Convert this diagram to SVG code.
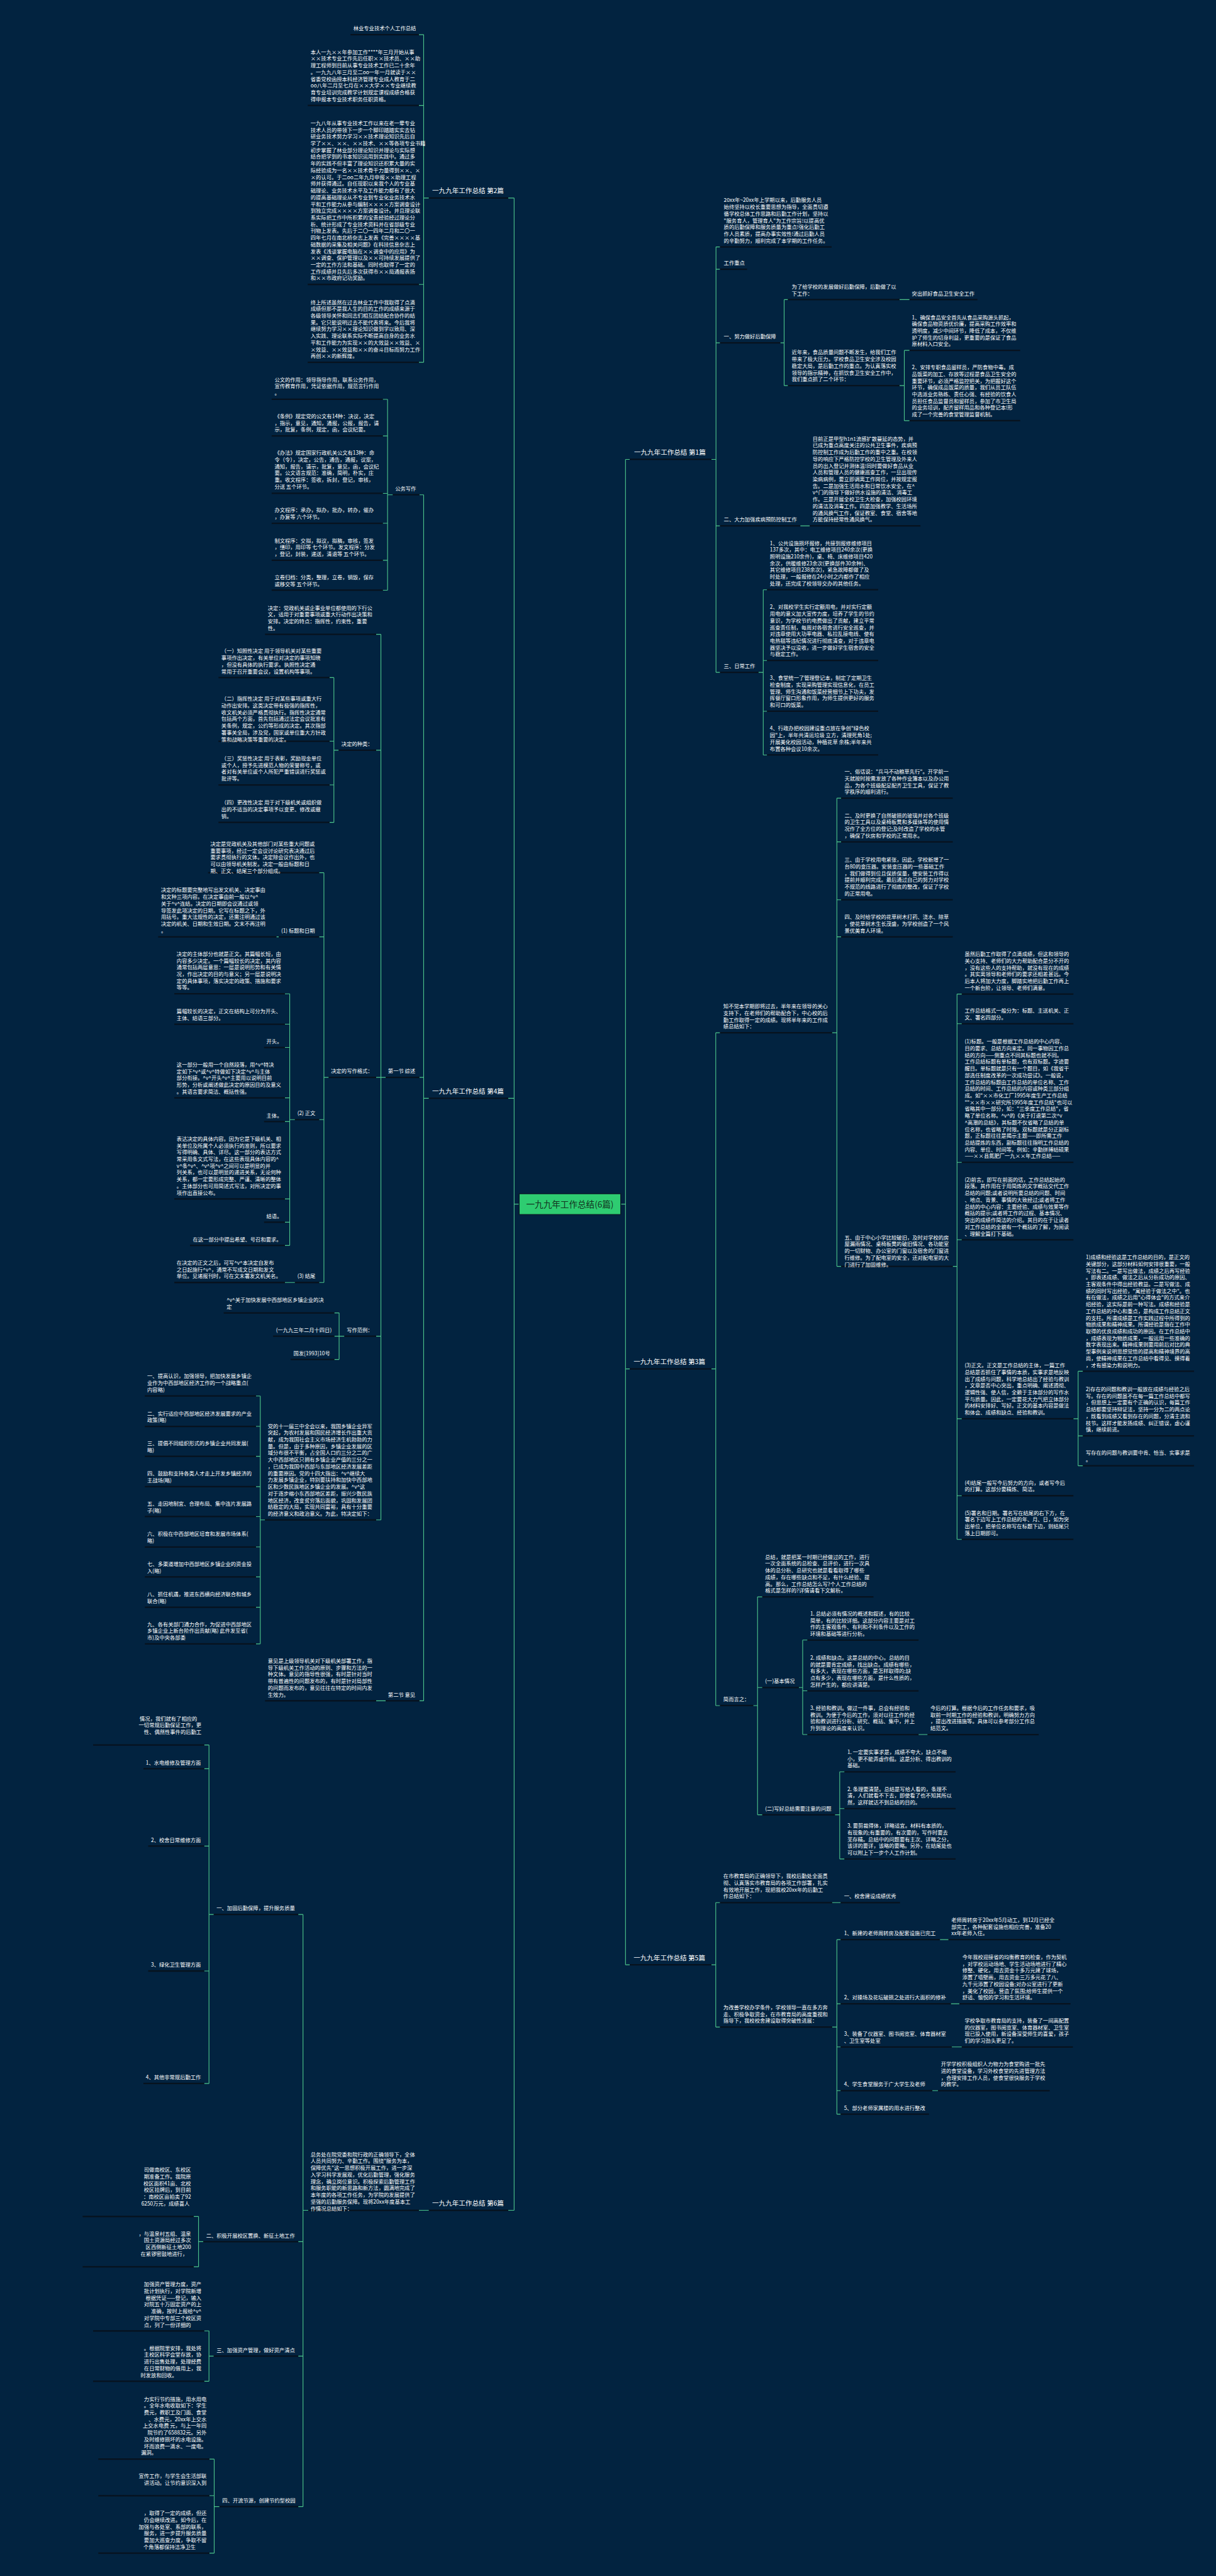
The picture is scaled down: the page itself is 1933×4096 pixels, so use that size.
<svg xmlns="http://www.w3.org/2000/svg" width="1933" height="4096" viewBox="0 0 1933 4096">
<style>
.t{font-family:"Noto Sans CJK SC","Noto Sans",sans-serif;font-size:11px;fill:#ffffff}
.e{text-anchor:end}
.l1{font-family:"Noto Sans CJK SC","Noto Sans",sans-serif;font-size:14px;fill:#ffffff}
.ctr{font-family:"Noto Sans CJK SC","Noto Sans",sans-serif;font-size:18px;fill:#12331f}
.ul{stroke:#07121e;stroke-width:3}
.c{fill:none;stroke:#4cc38a;stroke-width:1.5}
</style>
<rect width="1933" height="4096" fill="#022340"/>
<g transform="scale(0.755)">
<g id="connectors">
<path class="c" d="M1093 2536H1082.5M1082.5 417V4655M1082.5 417H1070M1082.5 2313H1070M1082.5 4655H1070"/>
<path class="c" d="M1307 2536H1317M1317 967.5V4138M1317 967.5H1326M1317 2883H1326M1317 4138H1326"/>
<path class="c" d="M903 417H892M892 73V763M892 73H882M892 222H882M892 599H882M892 763H882"/>
<path class="c" d="M903 2313H892M892 1042V3582M892 1042H883M892 2269H883M892 3582H883"/>
<path class="c" d="M827 1042H816M816 841V1243M816 841H806M816 918H806M816 1039H806M816 1102H806M816 1180H806M816 1243H806"/>
<path class="c" d="M812 2269H802M802 1336V3201M802 1336H792M802 1580H792M802 2269H792M802 2814H792M802 3201H792"/>
<path class="c" d="M713 1580H703M703 1427V1732M703 1427H694M703 1561H694M703 1653H694M703 1732H694"/>
<path class="c" d="M692 2269H682M682 1838V2701M682 1838H672M682 1973H672M682 2358H672M682 2701H672"/>
<path class="c" d="M587 1973H582M621 2701H600"/>
<path class="c" d="M621 2358H610M610 2093V2623M610 2093H600M610 2157H600M610 2206H600M610 2312H600M610 2362H600M610 2525H600M610 2574H600M610 2623H600"/>
<path class="c" d="M725 2814H714M714 2765V2863M714 2765H704M714 2814H704M714 2863H704"/>
<path class="c" d="M558 3201H548M548 2940V3462M548 2940H539M548 3004H539M548 3067H539M548 3131H539M548 3194H539M548 3258H539M548 3321H539M548 3385H539M548 3462H539"/>
<path class="c" d="M812 3582H792M903 4655H882"/>
<path class="c" d="M649 4655H638M638 4032V5279M638 4032H628M638 4721H628M638 4962H628M638 5279H628"/>
<path class="c" d="M450 4032H440M440 3675V4388M440 3675H430M440 3725H430M440 3888H430M440 4151H430M440 4388H430"/>
<path class="c" d="M428 4721H418M418 4668V4774M418 4668H408M418 4774H408"/>
<path class="c" d="M450 4962H440M440 4909V5015M440 4909H430M440 5015H430"/>
<path class="c" d="M462 5279H451M451 5179V5377M451 5179H441M451 5256H441M451 5377H441"/>
<path class="c" d="M1498 967.5H1507.5M1507.5 520V1416M1507.5 520H1516M1507.5 567H1516M1507.5 722H1516M1507.5 1107.5H1516M1507.5 1416H1516"/>
<path class="c" d="M1643 722H1651M1651 631V812M1651 631H1659M1651 812H1659M1894 631H1915"/>
<path class="c" d="M1894 812H1904M1904 738V886M1904 738H1915M1904 886H1915M1685 1107.5H1705"/>
<path class="c" d="M1597 1416H1607M1607 1242V1590M1607 1242H1615M1607 1391H1615M1607 1498H1615M1607 1590H1615"/>
<path class="c" d="M1498 2883H1507M1507 2175V3592M1507 2175H1516M1507 3592H1516"/>
<path class="c" d="M1752 2175H1762M1762 1681V2667M1762 1681H1771M1762 1773H1771M1762 1895H1771M1762 1973H1771M1762 2667H1771"/>
<path class="c" d="M2006 2667H2015M2015 2093.5V3242M2015 2093.5H2025M2015 2156H2025M2015 2448H2025M2015 2611H2025M2015 2988H2025M2015 3150H2025M2015 3242H2025"/>
<path class="c" d="M2260 2988H2270M2270 2888V3087M2270 2888H2280M2270 3024H2280M2270 3087H2280"/>
<path class="c" d="M1586 3592H1595M1595 3363V3822M1595 3363H1605M1595 3554H1605M1595 3822H1605"/>
<path class="c" d="M1682 3554H1690M1690 3454V3653M1690 3454H1700M1690 3561H1700M1690 3653H1700M1934 3653H1953"/>
<path class="c" d="M1758 3822H1768M1768 3731.5V3915M1768 3731.5H1778M1768 3809H1778M1768 3915H1778"/>
<path class="c" d="M1498 4138H1507M1507 4007V4269M1507 4007H1516M1507 4269H1516M1752 4007H1770"/>
<path class="c" d="M1752 4269H1762M1762 4085V4452.5M1762 4085H1770M1762 4220H1770M1762 4311H1770M1762 4403H1770M1762 4452.5H1770"/>
<path class="c" d="M1979 4085H1997M2002 4220H2020M2004 4311H2025M1963 4403H1975"/>
</g>

<g id="center">
<rect x="1093" y="2514" width="214" height="44" fill="#2ecc71" stroke="#0b1d2a" stroke-width="2"/>
<text class="ctr" x="1200" y="2543" text-anchor="middle">一九九年工作总结(6篇)</text>
</g>

<g id="p2"><line class="ul" x1="903" y1="417" x2="1070" y2="417"/><text class="l1" x="910" y="407">一九九年工作总结 第2篇</text></g>
<g id="p2c1"><line class="ul" x1="738" y1="73" x2="882" y2="73"/><text class="t" x="744" y="64">林业专业技术个人工作总结</text></g>
<g id="p2c2"><line class="ul" x1="648" y1="222" x2="882" y2="222"/><text class="t" x="654" y="113.6"><tspan x="654">本人一九××年参加工作****年三月开始从事</tspan><tspan x="654" dy="14.2">××技术专业工作先后任职××技术员、××助</tspan><tspan x="654" dy="14.2">理工程师到目前从事专业技术工作已二十余年</tspan><tspan x="654" dy="14.2">。一九九八年三月至二oo一年一月就读于××</tspan><tspan x="654" dy="14.2">省委党校函授本科经济管理专业成人教育于二</tspan><tspan x="654" dy="14.2">oo八年二月至七月在××大学××专业继续教</tspan><tspan x="654" dy="14.2">育专业培训完成教学计划规定课程成绩合格获</tspan><tspan x="654" dy="14.2">得申报本专业技术职务任职资格。</tspan></text></g>
<g id="p2c3"><line class="ul" x1="648" y1="599" x2="882" y2="599"/><text class="t" x="654" y="263.4"><tspan x="654">一九八年从事专业技术工作以来在老一辈专业</tspan><tspan x="654" dy="14.2">技术人员的带领下一步一个脚印踏踏实实去钻</tspan><tspan x="654" dy="14.2">研业务技术努力学习××技术理论知识先后自</tspan><tspan x="654" dy="14.2">学了××、××、××技术、××等各项专业书籍</tspan><tspan x="654" dy="14.2">初步掌握了林业部分理论知识并理论与实际想</tspan><tspan x="654" dy="14.2">结合把学到的书本知识运用到实践中。通过多</tspan><tspan x="654" dy="14.2">年的实践不但丰富了理论知识还积累大量的实</tspan><tspan x="654" dy="14.2">际经验成为一名××技术骨干力量得到××、×</tspan><tspan x="654" dy="14.2">×的认可。于二oo二年九月申报××助理工程</tspan><tspan x="654" dy="14.2">师并获得通过。自任现职以来我个人的专业基</tspan><tspan x="654" dy="14.2">础理论、业务技术水平及工作能力都有了很大</tspan><tspan x="654" dy="14.2">的提高基础理论从不专业到专业化业务技术水</tspan><tspan x="654" dy="14.2">平和工作能力从参与编制××××方案调查设计</tspan><tspan x="654" dy="14.2">到独立完成××××方案调查设计。并且理论联</tspan><tspan x="654" dy="14.2">系实际把工作中所积累的宝贵经验经过理论分</tspan><tspan x="654" dy="14.2">析、统计形成了专业技术资料并在省部级专业</tspan><tspan x="654" dy="14.2">刊物上发表。先后于二〇一四年二月和二〇一</tspan><tspan x="654" dy="14.2">四年七月在南北桥杂志上发表《完善××××基</tspan><tspan x="654" dy="14.2">础数据的采集及相关问题》在科技信息杂志上</tspan><tspan x="654" dy="14.2">发表《浅谈掌握电脑在××调查中的应用》为</tspan><tspan x="654" dy="14.2">××调查、保护管理以及××可持续发展提供了</tspan><tspan x="654" dy="14.2">一定的工作方法和基础。同时也取得了一定的</tspan><tspan x="654" dy="14.2">工作成绩并且先后多次获得市××局通报表扬</tspan><tspan x="654" dy="14.2">和××市政府记功奖励。</tspan></text></g>
<g id="p2c4"><line class="ul" x1="648" y1="763" x2="882" y2="763"/><text class="t" x="654" y="640.4"><tspan x="654">终上所述虽然在过去林业工作中我取得了点滴</tspan><tspan x="654" dy="14.2">成绩但那不是我人生的目的工作的成绩来源于</tspan><tspan x="654" dy="14.2">各级领导关怀和同志们相互团结配合协作的结</tspan><tspan x="654" dy="14.2">果。它只能说明过去不能代表将来。今后我将</tspan><tspan x="654" dy="14.2">继续努力学习××理论知识做到学以致用、深</tspan><tspan x="654" dy="14.2">入实践、理论联系实际不断提高自身的业务水</tspan><tspan x="654" dy="14.2">平和工作能力为实现××的大效益××效益、×</tspan><tspan x="654" dy="14.2">×效益、××效益和××的奋斗目标而努力工作</tspan><tspan x="654" dy="14.2">再创××的新辉煌。</tspan></text></g>

<g id="p4"><line class="ul" x1="903" y1="2313" x2="1070" y2="2313"/><text class="l1" x="910" y="2303">一九九年工作总结 第4篇</text></g>
<g id="gwxz"><line class="ul" x1="827" y1="1042" x2="883" y2="1042"/><text class="t" x="832" y="1033">公务写作</text></g>
<g id="gw1"><line class="ul" x1="572" y1="841" x2="806" y2="841"/><text class="t" x="578" y="803.6"><tspan x="578">公文的作用：领导指导作用，联系公务作用，</tspan><tspan x="578" dy="14.2">宣传教育作用，凭证依据作用，规范言行作用</tspan><tspan x="578" dy="14.2">。</tspan></text></g>
<g id="gw2"><line class="ul" x1="572" y1="918" x2="806" y2="918"/><text class="t" x="578" y="880.6"><tspan x="578">《条例》规定党的公文有14种：决议，决定</tspan><tspan x="578" dy="14.2">，指示，意见，通知，通报，公报，报告，请</tspan><tspan x="578" dy="14.2">示，批复，条例，规定，函，会议纪要。</tspan></text></g>
<g id="gw3"><line class="ul" x1="572" y1="1039" x2="806" y2="1039"/><text class="t" x="578" y="958"><tspan x="578">《办法》规定国家行政机关公文有13种：命</tspan><tspan x="578" dy="14.2">令（令），决定，公告，通告，通报，议案，</tspan><tspan x="578" dy="14.2">通知，报告，请示，批复，意见，函，会议纪</tspan><tspan x="578" dy="14.2">要。公文语言规范：准确，简明，朴实，庄</tspan><tspan x="578" dy="14.2">重。收文程序：签收，拆封，登记，审核，</tspan><tspan x="578" dy="14.2">分送 五个环节。</tspan></text></g>
<g id="gw4"><line class="ul" x1="572" y1="1102" x2="806" y2="1102"/><text class="t" x="578" y="1078.8"><tspan x="578">办文程序：承办，拟办，批办，转办，催办</tspan><tspan x="578" dy="14.2">，办复等 六个环节。</tspan></text></g>
<g id="gw5"><line class="ul" x1="572" y1="1180" x2="806" y2="1180"/><text class="t" x="578" y="1142.6"><tspan x="578">制文程序：交拟，拟议，拟稿，审核，签发</tspan><tspan x="578" dy="14.2">，缮印，用印等 七个环节。发文程序：分发</tspan><tspan x="578" dy="14.2">，登记，封装，递送，清退等 五个环节。</tspan></text></g>
<g id="gw6"><line class="ul" x1="572" y1="1243" x2="806" y2="1243"/><text class="t" x="578" y="1219.8"><tspan x="578">立卷归档：分类，整理，立卷，销毁，保存</tspan><tspan x="578" dy="14.2">或移交等 五个环节。</tspan></text></g>

<g id="zs"><line class="ul" x1="812" y1="2269" x2="883" y2="2269"/><text class="t" x="817" y="2260">第一节 综述</text></g>
<g id="zs1"><line class="ul" x1="558" y1="1336" x2="792" y2="1336"/><text class="t" x="564" y="1284.4"><tspan x="564">决定：党政机关或企事业单位都使用的下行公</tspan><tspan x="564" dy="14.2">文，适用于对重要事项或重大行动作出决策和</tspan><tspan x="564" dy="14.2">安排。决定的特点：指挥性，约束性，重要</tspan><tspan x="564" dy="14.2">性。</tspan></text></g>
<g id="zl"><line class="ul" x1="713" y1="1580" x2="792" y2="1580"/><text class="t" x="719" y="1571">决定的种类：</text></g>
<g id="zl1"><line class="ul" x1="460" y1="1427" x2="694" y2="1427"/><text class="t" x="466" y="1375.4"><tspan x="466">（一）知照性决定 用于领导机关对某些重要</tspan><tspan x="466" dy="14.2">事项作出决定，有关单位对决定的事项知晓</tspan><tspan x="466" dy="14.2">，但没有具体的执行要求。执照性决定通</tspan><tspan x="466" dy="14.2">常用于召开重要会议，设置机构等事项。</tspan></text></g>
<g id="zl2"><line class="ul" x1="460" y1="1561" x2="694" y2="1561"/><text class="t" x="466" y="1475.8"><tspan x="466">（二）指挥性决定 用于对某些事项或重大行</tspan><tspan x="466" dy="14.2">动作出安排。这类决定带有极强的指挥性，</tspan><tspan x="466" dy="14.2">收文机关必须严格贯彻执行。指挥性决定通常</tspan><tspan x="466" dy="14.2">包括两个方面，首先包括通过法定会议批准有</tspan><tspan x="466" dy="14.2">关条例，规定，公约等形成的决定。其次指部</tspan><tspan x="466" dy="14.2">署事关全局，涉及党，国家或单位重大方针政</tspan><tspan x="466" dy="14.2">策和战略决策等重要的决定。</tspan></text></g>
<g id="zl3"><line class="ul" x1="460" y1="1653" x2="694" y2="1653"/><text class="t" x="466" y="1601.4"><tspan x="466">（三）奖惩性决定 用于表彰，奖励现金单位</tspan><tspan x="466" dy="14.2">或个人，授予先进模范人物的荣誉称号，或</tspan><tspan x="466" dy="14.2">者对有关单位或个人所犯严重错误进行奖惩或</tspan><tspan x="466" dy="14.2">批评等。</tspan></text></g>
<g id="zl4"><line class="ul" x1="460" y1="1732" x2="694" y2="1732"/><text class="t" x="466" y="1694.6"><tspan x="466">（四）更改性决定 用于对下级机关或组织做</tspan><tspan x="466" dy="14.2">出的不适当的决定事项予以变更、修改或撤</tspan><tspan x="466" dy="14.2">销。</tspan></text></g>

<g id="gs"><line class="ul" x1="692" y1="2269" x2="792" y2="2269"/><text class="t" x="697" y="2260">决定的写作格式：</text></g>
<g id="gs0"><line class="ul" x1="438" y1="1838" x2="672" y2="1838"/><text class="t" x="443" y="1781.2"><tspan x="443">决定是党政机关及其他部门对某些重大问题或</tspan><tspan x="443" dy="14.2">重要事项，经过一定会议讨论研究表决通过后</tspan><tspan x="443" dy="14.2">要求贯彻执行的文体。决定除会议作出外，也</tspan><tspan x="443" dy="14.2">可以由领导机关制发。决定一般由标题和日</tspan><tspan x="443" dy="14.2">期、正文、结尾三个部分组成。</tspan></text></g>
<g id="gs1"><line class="ul" x1="587" y1="1973" x2="672" y2="1973"/><text class="t" x="592" y="1964">(1) 标题和日期</text></g>
<g id="gs1a"><line class="ul" x1="333" y1="1973" x2="582" y2="1973"/><text class="t" x="339" y="1878.8"><tspan x="339">决定的标题要完整地写出发文机关、决定事由</tspan><tspan x="339" dy="14.2">和文种三项内容。在决定事由前一般以^v^</tspan><tspan x="339" dy="14.2">关于^v^连结。决定的日期即会议通过或领</tspan><tspan x="339" dy="14.2">导签发此项决定的日期。它写在标题之下，外</tspan><tspan x="339" dy="14.2">用括号。重大法规性的决定，还需注明通过该</tspan><tspan x="339" dy="14.2">决定的机关、日期和生效日期。文末不再注明</tspan><tspan x="339" dy="14.2">。</tspan></text></g>
<g id="gs2"><line class="ul" x1="621" y1="2358" x2="672" y2="2358"/><text class="t" x="626" y="2349">(2) 正文</text></g>
<g id="gs2a"><line class="ul" x1="367" y1="2093" x2="600" y2="2093"/><text class="t" x="372" y="2013"><tspan x="372">决定的主体部分也就是正文。其篇幅长短，由</tspan><tspan x="372" dy="14.2">内容多少决定。一个篇幅较长的决定，其内容</tspan><tspan x="372" dy="14.2">通常包括两层意思：一层是说明形势和有关情</tspan><tspan x="372" dy="14.2">况，作出决定的目的与意义；另一层是说明决</tspan><tspan x="372" dy="14.2">定的具体事项，落实决定的政策、措施和要求</tspan><tspan x="372" dy="14.2">等等。</tspan></text></g>
<g id="gs2b"><line class="ul" x1="367" y1="2157" x2="600" y2="2157"/><text class="t" x="372" y="2133.8"><tspan x="372">篇幅较长的决定，正文在结构上可分为开头、</tspan><tspan x="372" dy="14.2">主体、结语三部分。</tspan></text></g>
<g id="gs2c"><line class="ul" x1="556" y1="2206" x2="600" y2="2206"/><text class="t" x="561" y="2197">开头。</text></g>
<g id="gs2d"><line class="ul" x1="367" y1="2312" x2="600" y2="2312"/><text class="t" x="372" y="2246.2"><tspan x="372">这一部分一般用一个自然段落，用^v^特决</tspan><tspan x="372" dy="14.2">定如下^v^或^v^特做如下决定^v^与主体</tspan><tspan x="372" dy="14.2">部分衔接。^v^开头^v^主要用以说明目前</tspan><tspan x="372" dy="14.2">形势，分析或阐述做此决定的原因目的及意义</tspan><tspan x="372" dy="14.2">。其语言要求简洁、概括性强。</tspan></text></g>
<g id="gs2e"><line class="ul" x1="556" y1="2362" x2="600" y2="2362"/><text class="t" x="561" y="2353">主体。</text></g>
<g id="gs2f"><line class="ul" x1="367" y1="2525" x2="600" y2="2525"/><text class="t" x="372" y="2402.4"><tspan x="372">表达决定的具体内容。因为它是下级机关、相</tspan><tspan x="372" dy="14.2">关单位及所属个人必须执行的准则，所以要求</tspan><tspan x="372" dy="14.2">写得明确、具体、详尽。这一部分的表达方式</tspan><tspan x="372" dy="14.2">常采用条文式写法，在这些表现具体内容的^</tspan><tspan x="372" dy="14.2">v^条^v^、^v^项^v^之间可以是明显的并</tspan><tspan x="372" dy="14.2">列关系，也可以是明显的递进关系，无论何种</tspan><tspan x="372" dy="14.2">关系，都一定要形成完整、严谨、清晰的整体</tspan><tspan x="372" dy="14.2">。主体部分也可用简述式写法，对所决定的事</tspan><tspan x="372" dy="14.2">项作出直接公布。</tspan></text></g>
<g id="gs2g"><line class="ul" x1="556" y1="2574" x2="600" y2="2574"/><text class="t" x="561" y="2565">结语。</text></g>
<g id="gs2h"><line class="ul" x1="400" y1="2623" x2="600" y2="2623"/><text class="t" x="406" y="2614">在这一部分中提出希望、号召和要求。</text></g>
<g id="gs3"><line class="ul" x1="621" y1="2701" x2="672" y2="2701"/><text class="t" x="626" y="2692">(3) 结尾</text></g>
<g id="gs3a"><line class="ul" x1="367" y1="2701" x2="600" y2="2701"/><text class="t" x="372" y="2663.6"><tspan x="372">在决定的正文之后，可写^v^本决定自发布</tspan><tspan x="372" dy="14.2">之日起施行^v^，通常不写成文日期和发文</tspan><tspan x="372" dy="14.2">单位。见诸报刊时，可在文末署发文机关名。</tspan></text></g>

<g id="fl"><line class="ul" x1="725" y1="2814" x2="792" y2="2814"/><text class="t" x="730" y="2805">写作范例：</text></g>
<g id="fl1"><line class="ul" x1="471" y1="2765" x2="704" y2="2765"/><text class="t" x="477" y="2741.8"><tspan x="477">^v^关于加快发展中西部地区乡镇企业的决</tspan><tspan x="477" dy="14.2">定</tspan></text></g>
<g id="fl2"><line class="ul" x1="575" y1="2814" x2="704" y2="2814"/><text class="t" x="581" y="2805">(一九九三年二月十四日)</text></g>
<g id="fl3"><line class="ul" x1="612" y1="2863" x2="704" y2="2863"/><text class="t" x="618" y="2854">国发[1993]10号</text></g>

<g id="dj"><line class="ul" x1="558" y1="3201" x2="792" y2="3201"/><text class="t" x="564" y="3007.4"><tspan x="564">党的十一届三中全会以来，我国乡镇企业异军</tspan><tspan x="564" dy="14.2">突起，为农村发展和国民经济增长作出重大贡</tspan><tspan x="564" dy="14.2">献，成为我国社会主义市场经济生机勃勃的力</tspan><tspan x="564" dy="14.2">量。但是，由于多种原因，乡镇企业发展的区</tspan><tspan x="564" dy="14.2">域分布很不平衡，占全国人口约三分之二的广</tspan><tspan x="564" dy="14.2">大中西部地区只拥有乡镇企业产值的三分之一</tspan><tspan x="564" dy="14.2">，已成为我国中西部与东部地区经济发展差距</tspan><tspan x="564" dy="14.2">的重要原因。党的十四大指出：^v^继续大</tspan><tspan x="564" dy="14.2">力发展乡镇企业，特别要扶持和加快中西部地</tspan><tspan x="564" dy="14.2">区和少数民族地区乡镇企业的发展。^v^这</tspan><tspan x="564" dy="14.2">对于逐步缩小东西部地区差距，振兴少数民族</tspan><tspan x="564" dy="14.2">地区经济，改变贫穷落后面貌，巩固和发展团</tspan><tspan x="564" dy="14.2">结稳定的大局，实现共同富裕，具有十分重要</tspan><tspan x="564" dy="14.2">的经济意义和政治意义。为此，特决定如下：</tspan></text></g>
<g id="dj1"><line class="ul" x1="305" y1="2940" x2="539" y2="2940"/><text class="t" x="310" y="2902.6"><tspan x="310">一、提高认识，加强领导，把加快发展乡镇企</tspan><tspan x="310" dy="14.2">业作为中西部地区经济工作的一个战略重点(</tspan><tspan x="310" dy="14.2">内容略)</tspan></text></g>
<g id="dj2"><line class="ul" x1="305" y1="3004" x2="539" y2="3004"/><text class="t" x="310" y="2980.8"><tspan x="310">二、实行适应中西部地区经济发展要求的产业</tspan><tspan x="310" dy="14.2">政策(略)</tspan></text></g>
<g id="dj3"><line class="ul" x1="305" y1="3067" x2="539" y2="3067"/><text class="t" x="310" y="3043.8"><tspan x="310">三、提倡不同组织形式的乡镇企业共同发展(</tspan><tspan x="310" dy="14.2">略)</tspan></text></g>
<g id="dj4"><line class="ul" x1="305" y1="3131" x2="539" y2="3131"/><text class="t" x="310" y="3107.8"><tspan x="310">四、鼓励和支持各类人才走上开发乡镇经济的</tspan><tspan x="310" dy="14.2">主战场(略)</tspan></text></g>
<g id="dj5"><line class="ul" x1="305" y1="3194" x2="539" y2="3194"/><text class="t" x="310" y="3170.8"><tspan x="310">五、走因地制宜、合理布局、集中连片发展路</tspan><tspan x="310" dy="14.2">子(略)</tspan></text></g>
<g id="dj6"><line class="ul" x1="305" y1="3258" x2="539" y2="3258"/><text class="t" x="310" y="3234.8"><tspan x="310">六、积极在中西部地区培育和发展市场体系(</tspan><tspan x="310" dy="14.2">略)</tspan></text></g>
<g id="dj7"><line class="ul" x1="305" y1="3321" x2="539" y2="3321"/><text class="t" x="310" y="3297.8"><tspan x="310">七、多渠道增加中西部地区乡镇企业的资金投</tspan><tspan x="310" dy="14.2">入(略)</tspan></text></g>
<g id="dj8"><line class="ul" x1="305" y1="3385" x2="539" y2="3385"/><text class="t" x="310" y="3361.8"><tspan x="310">八、抓住机遇，推进东西横向经济联合和城乡</tspan><tspan x="310" dy="14.2">联合(略)</tspan></text></g>
<g id="dj9"><line class="ul" x1="305" y1="3462" x2="539" y2="3462"/><text class="t" x="310" y="3424.6"><tspan x="310">九、各有关部门通力合作，为促进中西部地区</tspan><tspan x="310" dy="14.2">乡镇企业上新台阶作出贡献(略) 此件发至省(</tspan><tspan x="310" dy="14.2">市)及中央各部委</tspan></text></g>

<g id="yj"><line class="ul" x1="812" y1="3582" x2="883" y2="3582"/><text class="t" x="817" y="3573">第二节 意见</text></g>
<g id="yj1"><line class="ul" x1="558" y1="3582" x2="792" y2="3582"/><text class="t" x="564" y="3502"><tspan x="564">意见是上级领导机关对下级机关部署工作，指</tspan><tspan x="564" dy="14.2">导下级机关工作活动的原则、步骤和方法的一</tspan><tspan x="564" dy="14.2">种文体。意见的指导性很强，有时是针对当时</tspan><tspan x="564" dy="14.2">带有普遍性的问题发布的，有时是针对局部性</tspan><tspan x="564" dy="14.2">的问题而发布的，意见往往在特定的时间内发</tspan><tspan x="564" dy="14.2">生效力。</tspan></text></g>

<g id="p6"><line class="ul" x1="903" y1="4655" x2="1070" y2="4655"/><text class="l1" x="910" y="4645">一九九年工作总结 第6篇</text></g>
<g id="zw"><line class="ul" x1="649" y1="4655" x2="882" y2="4655"/><text class="t" x="654" y="4541.4"><tspan x="654">总务处在院党委和院行政的正确领导下，全体</tspan><tspan x="654" dy="14.2">人员共同努力、辛勤工作。围绕"服务为本，</tspan><tspan x="654" dy="14.2">保障优先"这一思想积极开展工作，进一步深</tspan><tspan x="654" dy="14.2">入学习科学发展观，优化后勤管理，强化服务</tspan><tspan x="654" dy="14.2">理念，确立岗位意识。积极探索后勤管理工作</tspan><tspan x="654" dy="14.2">和服务职能的新思路和新方法，圆满地完成了</tspan><tspan x="654" dy="14.2">本年度的各项工作任务，为学院的发展提供了</tspan><tspan x="654" dy="14.2">坚强的后勤服务保障。现将20xx年度基本工</tspan><tspan x="654" dy="14.2">作情况总结如下：</tspan></text></g>
<g id="zw1"><line class="ul" x1="450" y1="4032" x2="628" y2="4032"/><text class="t" x="456" y="4023">一、加固后勤保障，提升服务质量</text></g>
<g id="zw2"><line class="ul" x1="428" y1="4721" x2="628" y2="4721"/><text class="t" x="434" y="4712">二、积极开展校区置换、新征土地工作</text></g>
<g id="zw3"><line class="ul" x1="450" y1="4962" x2="628" y2="4962"/><text class="t" x="456" y="4953">三、加强资产管理，做好资产清点</text></g>
<g id="zw4"><line class="ul" x1="462" y1="5279" x2="628" y2="5279"/><text class="t" x="468" y="5270">四、开流节源，创建节约型校园</text></g>
<g id="zw1p"><line class="ul" x1="196" y1="3675" x2="430" y2="3675"/><text class="t e"><tspan x="415" y="3623.4">情况，我们就有了相应的</tspan><tspan x="424" y="3637.6">一切常规后勤保证工作，更</tspan><tspan x="424" y="3651.8">性、偶然性事件的后勤工</tspan></text></g>
<g id="zw1a"><line class="ul" x1="302" y1="3725" x2="430" y2="3725"/><text class="t" x="307" y="3716">1、水电维修及管理方面</text></g>
<g id="zw1b"><line class="ul" x1="312" y1="3888" x2="430" y2="3888"/><text class="t" x="318" y="3879">2、校舍日常维修方面</text></g>
<g id="zw1c"><line class="ul" x1="312" y1="4151" x2="430" y2="4151"/><text class="t" x="318" y="4142">3、绿化卫生管理方面</text></g>
<g id="zw1d"><line class="ul" x1="302" y1="4388" x2="430" y2="4388"/><text class="t" x="307" y="4379">4、其他非常规后勤工作</text></g>
<g id="zw2a"><line class="ul" x1="174" y1="4668" x2="408" y2="4668"/><text class="t e"><tspan x="402" y="4573.8">司做南校区、东校区</tspan><tspan x="402" y="4588">期准备工作。我院原</tspan><tspan x="402" y="4602.2">校区面积41亩、北校</tspan><tspan x="402" y="4616.4">校区挂牌后，到目前</tspan><tspan x="402" y="4630.6">：南校区亩拍卖了92</tspan><tspan x="399" y="4644.8">6250万元，成绩喜人</tspan></text></g>
<g id="zw2b"><line class="ul" x1="174" y1="4774" x2="408" y2="4774"/><text class="t e"><tspan x="402" y="4708.2">，与温泉村五组、温泉</tspan><tspan x="402" y="4722.4">国土资源局经过多次</tspan><tspan x="402" y="4736.6">区西侧新征土地200</tspan><tspan x="395" y="4750.8">在紧锣密鼓地进行，</tspan></text></g>
<g id="zw3a"><line class="ul" x1="196" y1="4909" x2="430" y2="4909"/><text class="t e"><tspan x="424" y="4814.8">加强资产管理力度，资产</tspan><tspan x="424" y="4829">批计划执行，对学院新增</tspan><tspan x="424" y="4843.2">根据凭证——登记，输入</tspan><tspan x="424" y="4857.4">对院五十万固定资产的上</tspan><tspan x="424" y="4871.6">准确，按时上报给^v^</tspan><tspan x="424" y="4885.8">对学院中专部三个校区资</tspan><tspan x="402" y="4900">点，列了一份详细的</tspan></text></g>
<g id="zw3b"><line class="ul" x1="196" y1="5015" x2="430" y2="5015"/><text class="t e"><tspan x="424" y="4949.2">。根据院里安排，我处将</tspan><tspan x="424" y="4963.4">主校区科学会堂存放，协</tspan><tspan x="424" y="4977.6">进行出售处理，处理经费</tspan><tspan x="424" y="4991.8">在日常财物的借用上，我</tspan><tspan x="373" y="5006">时发放和回收。</tspan></text></g>
<g id="zw4a"><line class="ul" x1="207" y1="5179" x2="441" y2="5179"/><text class="t e"><tspan x="435" y="5056.4">力实行节约措施，用水用电</tspan><tspan x="435" y="5070.6">。全年水电收取如下：学生</tspan><tspan x="435" y="5084.8">费元，教职工及门面、食堂</tspan><tspan x="435" y="5099">、水费元，20xx年上交水</tspan><tspan x="435" y="5113.2">上交水电费 元，与上一年同</tspan><tspan x="435" y="5127.4">院节约了658832元。另外</tspan><tspan x="435" y="5141.6">及时维修损坏的水电设施。</tspan><tspan x="435" y="5155.8">坏而浪费一滴水、一度电。</tspan><tspan x="330" y="5170">漏洞。</tspan></text></g>
<g id="zw4b"><line class="ul" x1="207" y1="5256" x2="441" y2="5256"/><text class="t e"><tspan x="435" y="5218.6">宣传工作，与学生会生活部联</tspan><tspan x="435" y="5232.8">讲活动。让节约意识深入到</tspan></text></g>
<g id="zw4c"><line class="ul" x1="207" y1="5377" x2="441" y2="5377"/><text class="t e"><tspan x="435" y="5297">，取得了一定的成绩，但还</tspan><tspan x="435" y="5311.2">仍会继续改进。如今后，在</tspan><tspan x="435" y="5325.4">加强与各处室、系部的联系，</tspan><tspan x="435" y="5339.6">服务，进一步提升服务质量</tspan><tspan x="435" y="5353.8">要加大巡查力度，争取不留</tspan><tspan x="412" y="5368">个角落都保持洁净卫生</tspan></text></g>

<g id="p1"><line class="ul" x1="1326" y1="967.5" x2="1498" y2="967.5"/><text class="l1" x="1335" y="958">一九九年工作总结 第1篇</text></g>
<g id="p1a"><line class="ul" x1="1516" y1="520" x2="1751" y2="520"/><text class="t" x="1524" y="425.8"><tspan x="1524">20xx年~20xx年上学期以来，后勤服务人员</tspan><tspan x="1524" dy="14.2">始终坚持以校长重要思想为指导，全面贯切遵</tspan><tspan x="1524" dy="14.2">循学校总体工作思路和后勤工作计划，坚持以</tspan><tspan x="1524" dy="14.2">"服务育人，管理育人"为工作宗旨!以提高优</tspan><tspan x="1524" dy="14.2">质的后勤保障和服务质量为重点!强化后勤工</tspan><tspan x="1524" dy="14.2">作人员素质，提高办事实效性!通过后勤人员</tspan><tspan x="1524" dy="14.2">的辛勤努力，顺利完成了本学期的工作任务。</tspan></text></g>
<g id="p1b"><line class="ul" x1="1516" y1="567" x2="1573" y2="567"/><text class="t" x="1524" y="558">工作重点</text></g>
<g id="p1c"><line class="ul" x1="1516" y1="722" x2="1643" y2="722"/><text class="t" x="1524" y="713">一、努力做好后勤保障</text></g>
<g id="p1c1"><line class="ul" x1="1659" y1="631" x2="1894" y2="631"/><text class="t" x="1667" y="607.8"><tspan x="1667">为了给学校的发展做好后勤保障，后勤做了以</tspan><tspan x="1667" dy="14.2">下工作：</tspan></text></g>
<g id="p1c1a"><line class="ul" x1="1915" y1="631" x2="2058" y2="631"/><text class="t" x="1920" y="622">突出抓好食品卫生安全工作</text></g>
<g id="p1c2"><line class="ul" x1="1659" y1="812" x2="1894" y2="812"/><text class="t" x="1667" y="746.2"><tspan x="1667">近年来，食品质量问题不断发生，给我们工作</tspan><tspan x="1667" dy="14.2">带来了极大压力。学校食品卫生安全涉及校园</tspan><tspan x="1667" dy="14.2">稳定大局，是后勤工作的重点。为认真落实校</tspan><tspan x="1667" dy="14.2">领导的指示精神，在抓饮食卫生安全工作中，</tspan><tspan x="1667" dy="14.2">我们重点抓了二个环节：</tspan></text></g>
<g id="p1c2a"><line class="ul" x1="1915" y1="738" x2="2148" y2="738"/><text class="t" x="1920" y="672.2"><tspan x="1920">1、确保食品安全首先从食品采购源头抓起，</tspan><tspan x="1920" dy="14.2">确保食品物资质优价廉，提高采购工作效率和</tspan><tspan x="1920" dy="14.2">透明度，减少中间环节，降低了成本，不仅维</tspan><tspan x="1920" dy="14.2">护了师生的切身利益，更重要的是保证了食品</tspan><tspan x="1920" dy="14.2">原材料入口安全。</tspan></text></g>
<g id="p1c2b"><line class="ul" x1="1915" y1="886" x2="2148" y2="886"/><text class="t" x="1920" y="777.6"><tspan x="1920">2、安排专职食品留样员，严防食物中毒。成</tspan><tspan x="1920" dy="14.2">品饭菜的加工、存放等过程是食品卫生安全的</tspan><tspan x="1920" dy="14.2">重要环节，必须严格监控把关，为把握好这个</tspan><tspan x="1920" dy="14.2">环节，确保成品饭菜的质量，我们从员工队伍</tspan><tspan x="1920" dy="14.2">中选派业务熟练、责任心强、有经验的饮食人</tspan><tspan x="1920" dy="14.2">员担任食品监督员和留样员，参加了市卫生局</tspan><tspan x="1920" dy="14.2">的业务培训，配齐留样用品和各种登记本!形</tspan><tspan x="1920" dy="14.2">成了一个完善的食堂管理监督机制。</tspan></text></g>
<g id="p1d"><line class="ul" x1="1516" y1="1107.5" x2="1685" y2="1107.5"/><text class="t" x="1524" y="1098.5">二、大力加强疾病预防控制工作</text></g>
<g id="p1d1"><line class="ul" x1="1705" y1="1107.5" x2="1938" y2="1107.5"/><text class="t" x="1711" y="928.1"><tspan x="1711">目前正是甲型h1n1流感扩散蔓延的态势，并</tspan><tspan x="1711" dy="14.2">已成为重点高度关注的公共卫生事件，疾病预</tspan><tspan x="1711" dy="14.2">防控制工作成为后勤工作的重中之重。在校领</tspan><tspan x="1711" dy="14.2">导的响应下严格防控学校的卫生管理及外来人</tspan><tspan x="1711" dy="14.2">员的出入登记并测体温!同时要做好食品从业</tspan><tspan x="1711" dy="14.2">人员和管理人员的健康巡查工作，一旦出现传</tspan><tspan x="1711" dy="14.2">染病病例，要立即调离工作岗位，并按规定报</tspan><tspan x="1711" dy="14.2">告。二是加强生活用水和日常饮水安全，在^</tspan><tspan x="1711" dy="14.2">v^门的指导下做好供水设施的清洁、消毒工</tspan><tspan x="1711" dy="14.2">作。三是开展全校卫生大检查，加强校园环境</tspan><tspan x="1711" dy="14.2">的清洁及消毒工作。四是加强教学、生活场所</tspan><tspan x="1711" dy="14.2">的通风换气工作，保证教室、食堂、宿舍等地</tspan><tspan x="1711" dy="14.2">方能保持经常性通风换气。</tspan></text></g>
<g id="p1e"><line class="ul" x1="1516" y1="1416" x2="1597" y2="1416"/><text class="t" x="1524" y="1407">三、日常工作</text></g>
<g id="p1e1"><line class="ul" x1="1615" y1="1242" x2="1849" y2="1242"/><text class="t" x="1621" y="1147.8"><tspan x="1621">1、公共设施损坏报修，共接到报修维修项目</tspan><tspan x="1621" dy="14.2">137多次，其中：电工维修项目240余次(更换</tspan><tspan x="1621" dy="14.2">照明设施210余件)，桌、椅、床维修项目420</tspan><tspan x="1621" dy="14.2">余次，供暖维修23余次(更换部件30余种)、</tspan><tspan x="1621" dy="14.2">其它维修项目238余次)，紧急故障都做了及</tspan><tspan x="1621" dy="14.2">时处理，一般报修在24小时之内都作了相应</tspan><tspan x="1621" dy="14.2">处理，还完成了校领导交办的其他任务。</tspan></text></g>
<g id="p1e2"><line class="ul" x1="1615" y1="1391" x2="1849" y2="1391"/><text class="t" x="1621" y="1282.6"><tspan x="1621">2、对我校学生实行定额用电，并对实行定额</tspan><tspan x="1621" dy="14.2">用电的意义加大宣传力度，培养了学生的节约</tspan><tspan x="1621" dy="14.2">意识，为学校节约电费做出了贡献，建立平常</tspan><tspan x="1621" dy="14.2">巡查责任制，每周对各宿舍进行安全巡查，并</tspan><tspan x="1621" dy="14.2">对违章使用大功率电器、私拉乱接电线、使有</tspan><tspan x="1621" dy="14.2">电热毯等违纪情况进行彻底清查，对于违章电</tspan><tspan x="1621" dy="14.2">器坚决予以没收，进一步做好学生宿舍的安全</tspan><tspan x="1621" dy="14.2">与稳定工作。</tspan></text></g>
<g id="p1e3"><line class="ul" x1="1615" y1="1498" x2="1849" y2="1498"/><text class="t" x="1621" y="1432.2"><tspan x="1621">3、食堂统一了管理登记本，制定了定期卫生</tspan><tspan x="1621" dy="14.2">检查制度，实现采购管理实现信息化，在员工</tspan><tspan x="1621" dy="14.2">管理、师生沟通和饭菜经营细节上下功夫，发</tspan><tspan x="1621" dy="14.2">挥餐厅窗口形象作用，为师生提供更好的服务</tspan><tspan x="1621" dy="14.2">和可口的饭菜。</tspan></text></g>
<g id="p1e4"><line class="ul" x1="1615" y1="1590" x2="1849" y2="1590"/><text class="t" x="1621" y="1538.4"><tspan x="1621">4、行政办把校园建设重点放在争创"绿色校</tspan><tspan x="1621" dy="14.2">园"上，半年共清运垃圾 立方，清理死角1处;</tspan><tspan x="1621" dy="14.2">开展美化校园活动，种植花草 余株;半年来共</tspan><tspan x="1621" dy="14.2">布置各种会议10余次。</tspan></text></g>

<g id="p3"><line class="ul" x1="1326" y1="2883" x2="1498" y2="2883"/><text class="l1" x="1334" y="2873">一九九年工作总结 第3篇</text></g>
<g id="p3a"><line class="ul" x1="1516" y1="2175" x2="1752" y2="2175"/><text class="t" x="1523" y="2123.4"><tspan x="1523">知不觉本学期即将过去，半年来在领导的关心</tspan><tspan x="1523" dy="14.2">支持下，在老师们的帮助配合下，中心校的后</tspan><tspan x="1523" dy="14.2">勤工作取得一定的成绩。现将半年来的工作成</tspan><tspan x="1523" dy="14.2">绩总结如下：</tspan></text></g>
<g id="p3a1"><line class="ul" x1="1771" y1="1681" x2="2006" y2="1681"/><text class="t" x="1778" y="1629.4"><tspan x="1778">一、俗话说："兵马不动粮草先行"。开学前一</tspan><tspan x="1778" dy="14.2">天就按时按需发放了各种作业簿本以及办公用</tspan><tspan x="1778" dy="14.2">品，为各个班级配足配齐卫生工具，保证了教</tspan><tspan x="1778" dy="14.2">学秩序的顺利进行。</tspan></text></g>
<g id="p3a2"><line class="ul" x1="1771" y1="1773" x2="2006" y2="1773"/><text class="t" x="1778" y="1721.4"><tspan x="1778">二、及时更换了自然破损的玻璃并对各个班级</tspan><tspan x="1778" dy="14.2">的卫生工具以及桌椅板凳和多媒体等的使用情</tspan><tspan x="1778" dy="14.2">况作了全方位的登记;及时改造了学校的水管</tspan><tspan x="1778" dy="14.2">，确保了伙房和学校的正常用水。</tspan></text></g>
<g id="p3a3"><line class="ul" x1="1771" y1="1895" x2="2006" y2="1895"/><text class="t" x="1778" y="1815"><tspan x="1778">三、由于学校用电紧张，因此，学校新增了一</tspan><tspan x="1778" dy="14.2">台80的变压器。安装变压器的一些基础工作</tspan><tspan x="1778" dy="14.2">，我们做得到位且保质保量，使安装工作得以</tspan><tspan x="1778" dy="14.2">提前并顺利完成。最后通过自己的努力对学校</tspan><tspan x="1778" dy="14.2">不规范的线路进行了彻底的整改，保证了学校</tspan><tspan x="1778" dy="14.2">的正常用电。</tspan></text></g>
<g id="p3a4"><line class="ul" x1="1771" y1="1973" x2="2006" y2="1973"/><text class="t" x="1778" y="1935.6"><tspan x="1778">四、及时给学校的花草树木打药、浇水、除草</tspan><tspan x="1778" dy="14.2">，使花草树木生长茂盛，为学校创造了一个风</tspan><tspan x="1778" dy="14.2">景优美育人环境。</tspan></text></g>
<g id="p3a5"><line class="ul" x1="1771" y1="2667" x2="2006" y2="2667"/><text class="t" x="1778" y="2610.2"><tspan x="1778">五、由于中心小学比较破旧，及时对学校的房</tspan><tspan x="1778" dy="14.2">屋漏雨情况、桌椅板凳的破旧情况、各功能室</tspan><tspan x="1778" dy="14.2">的一切财物、办公室的门窗以及宿舍的门窗进</tspan><tspan x="1778" dy="14.2">行维修。为了配电室的安全，还对配电室的大</tspan><tspan x="1778" dy="14.2">门进行了加固维修。</tspan></text></g>
<g id="p3b1"><line class="ul" x1="2025" y1="2093.5" x2="2260" y2="2093.5"/><text class="t" x="2031" y="2013.5"><tspan x="2031">虽然后勤工作取得了点滴成绩，但这和领导的</tspan><tspan x="2031" dy="14.2">关心支持、老师们的大力帮助配合是分不开的</tspan><tspan x="2031" dy="14.2">，没有这些人的支持帮助，就没有现在的成绩</tspan><tspan x="2031" dy="14.2">。其实离领导和老师们的要求还相差甚远。今</tspan><tspan x="2031" dy="14.2">后本人将加大力度，脚踏实地把后勤工作再上</tspan><tspan x="2031" dy="14.2">一个新台阶，让领导、老师们满意。</tspan></text></g>
<g id="p3b2"><line class="ul" x1="2025" y1="2156" x2="2260" y2="2156"/><text class="t" x="2031" y="2132.8"><tspan x="2031">工作总结格式一般分为：标题、主送机关、正</tspan><tspan x="2031" dy="14.2">文、署名四部分。</tspan></text></g>
<g id="p3b3"><line class="ul" x1="2025" y1="2448" x2="2260" y2="2448"/><text class="t" x="2031" y="2197.6"><tspan x="2031">(1)标题。一般是根据工作总结的中心内容、</tspan><tspan x="2031" dy="14.2">目的要求、总结方向来定。同一事物因工作总</tspan><tspan x="2031" dy="14.2">结的方向——侧重点不同其标题也就不同。</tspan><tspan x="2031" dy="14.2">工作总结标题有单标题，也有双标题。字迹要</tspan><tspan x="2031" dy="14.2">醒目。单标题就是只有一个题目，如《我省干</tspan><tspan x="2031" dy="14.2">部选任制度改革的一次成功尝试》。一般说，</tspan><tspan x="2031" dy="14.2">工作总结的标题由工作总结的单位名称、工作</tspan><tspan x="2031" dy="14.2">总结的时间、工作总结的内容或种类三部分组</tspan><tspan x="2031" dy="14.2">成。如"××市化工厂1995年度生产工作总结</tspan><tspan x="2031" dy="14.2">""××市××研究所1995年度工作总结"也可以</tspan><tspan x="2031" dy="14.2">省略其中一部分，如："三季度工作总结"，省</tspan><tspan x="2031" dy="14.2">略了单位名称。^v^的《关于打退第二次^v</tspan><tspan x="2031" dy="14.2">^高潮的总结》，其标题不仅省略了总结的单</tspan><tspan x="2031" dy="14.2">位名称，也省略了时限。双标题就是分正副标</tspan><tspan x="2031" dy="14.2">题，正标题往往是揭示主题——即所需工作</tspan><tspan x="2031" dy="14.2">总结提炼的东西，副标题往往指明工作总结的</tspan><tspan x="2031" dy="14.2">内容、单位、时间等。例如：辛勤拼搏结硕果</tspan><tspan x="2031" dy="14.2">——××县氮肥厂一九××年工作总结——</tspan></text></g>
<g id="p3b4"><line class="ul" x1="2025" y1="2611" x2="2260" y2="2611"/><text class="t" x="2031" y="2488.4"><tspan x="2031">(2)前言。即写在前面的话，工作总结起始的</tspan><tspan x="2031" dy="14.2">段落。其作用在于用简炼的文字概括交代工作</tspan><tspan x="2031" dy="14.2">总结的问题;或者说明所要总结的问题、时间</tspan><tspan x="2031" dy="14.2">、地点、背景、事情的大致经过;或者将工作</tspan><tspan x="2031" dy="14.2">总结的中心内容：主要经验、成绩与效果等作</tspan><tspan x="2031" dy="14.2">概括的提示;或者将工作的过程、基本情况、</tspan><tspan x="2031" dy="14.2">突出的成绩作简洁的介绍。其目的在于让读者</tspan><tspan x="2031" dy="14.2">对工作总结的全貌有一个概括的了解，为阅读</tspan><tspan x="2031" dy="14.2">、理解全篇打下基础。</tspan></text></g>
<g id="p3b5"><line class="ul" x1="2025" y1="2988" x2="2260" y2="2988"/><text class="t" x="2031" y="2879.6"><tspan x="2031">(3)正文。正文是工作总结的主体，一篇工作</tspan><tspan x="2031" dy="14.2">总结是否抓住了事情的本质，实事求是地反映</tspan><tspan x="2031" dy="14.2">出了成绩与问题，科学地总结出了经验与教训</tspan><tspan x="2031" dy="14.2">，文章是否中心突出，重点明确、阐述透彻、</tspan><tspan x="2031" dy="14.2">逻辑性强、使人信，全赖于主体部分的写作水</tspan><tspan x="2031" dy="14.2">平与质量。因此，一定要花大力气把立体部分</tspan><tspan x="2031" dy="14.2">的材料安排好、写好。正文的基本内容是做法</tspan><tspan x="2031" dy="14.2">和体会、成绩和缺点、经验和教训。</tspan></text></g>
<g id="p3c1"><line class="ul" x1="2280" y1="2888" x2="2514" y2="2888"/><text class="t" x="2286" y="2651.8"><tspan x="2286">1)成绩和经验这是工作总结的目的，是正文的</tspan><tspan x="2286" dy="14.2">关键部分，这部分材料如何安排很重要，一般</tspan><tspan x="2286" dy="14.2">写法有二。一是写出做法，成绩之后再写经验</tspan><tspan x="2286" dy="14.2">。即表述成绩、做法之后从分析成功的原因、</tspan><tspan x="2286" dy="14.2">主客观条件中得出经验教益。二是写做法、成</tspan><tspan x="2286" dy="14.2">绩的同时写出经验，"寓经验于做法之中"。也</tspan><tspan x="2286" dy="14.2">有在做法，成绩之后用"心得体会"的方式来介</tspan><tspan x="2286" dy="14.2">绍经验，这实际是前一种写法。成绩和经验是</tspan><tspan x="2286" dy="14.2">工作总结的中心和重点，是构成工作总结正文</tspan><tspan x="2286" dy="14.2">的支柱。所谓成绩是工作实践过程中所得到的</tspan><tspan x="2286" dy="14.2">物质成果和精神成果。所谓经验是指在工作中</tspan><tspan x="2286" dy="14.2">取得的优良成绩和成功的原因。在工作总结中</tspan><tspan x="2286" dy="14.2">，成绩表现为物质成果，一般运用一些准确的</tspan><tspan x="2286" dy="14.2">数字表现出来。精神成果则要用前后对比的典</tspan><tspan x="2286" dy="14.2">型事例来说明思想觉悟的提高和精神境界的高</tspan><tspan x="2286" dy="14.2">尚，使精神成果在工作总结中看得见、摸得着</tspan><tspan x="2286" dy="14.2">，才有感染力和说明力。</tspan></text></g>
<g id="p3c2"><line class="ul" x1="2280" y1="3024" x2="2514" y2="3024"/><text class="t" x="2286" y="2929.8"><tspan x="2286">2)存在的问题和教训一般放在成绩与经验之后</tspan><tspan x="2286" dy="14.2">写。存在的问题虽不在每一篇工作总结中都写</tspan><tspan x="2286" dy="14.2">，但思想上一定要有个正确的认识，每篇工作</tspan><tspan x="2286" dy="14.2">总结都要坚持辩证法，坚持一分为二的两点论</tspan><tspan x="2286" dy="14.2">，既看到成绩又看到存在的问题，分清主流和</tspan><tspan x="2286" dy="14.2">枝节。这样才能发扬成绩、纠正错误，虚心谨</tspan><tspan x="2286" dy="14.2">慎，继续前进。</tspan></text></g>
<g id="p3c3"><line class="ul" x1="2280" y1="3087" x2="2514" y2="3087"/><text class="t" x="2286" y="3063.8"><tspan x="2286">写存在的问题与教训要中肯、恰当、实事求是</tspan><tspan x="2286" dy="14.2">。</tspan></text></g>
<g id="p3b6"><line class="ul" x1="2025" y1="3150" x2="2260" y2="3150"/><text class="t" x="2031" y="3126.8"><tspan x="2031">(4)结尾一般写今后努力的方向，或者写今后</tspan><tspan x="2031" dy="14.2">的打算。这部分要精炼、简洁。</tspan></text></g>
<g id="p3b7"><line class="ul" x1="2025" y1="3242" x2="2260" y2="3242"/><text class="t" x="2031" y="3190.4"><tspan x="2031">(5)署名和日期。署名写在结尾的右下方，在</tspan><tspan x="2031" dy="14.2">署名下边写上工作总结的年、月、日，如为突</tspan><tspan x="2031" dy="14.2">出单位，把单位名称写在标题下边，则结尾只</tspan><tspan x="2031" dy="14.2">落上日期即可。</tspan></text></g>
<g id="p3d"><line class="ul" x1="1516" y1="3592" x2="1586" y2="3592"/><text class="t" x="1523" y="3583">简而言之：</text></g>
<g id="p3d1"><line class="ul" x1="1605" y1="3363" x2="1839" y2="3363"/><text class="t" x="1611" y="3283"><tspan x="1611">总结，就是把某一时期已经做过的工作，进行</tspan><tspan x="1611" dy="14.2">一次全面系统的总检查、总评价，进行一次具</tspan><tspan x="1611" dy="14.2">体的总分析、总研究也就是看看取得了哪些</tspan><tspan x="1611" dy="14.2">成绩，存在哪些缺点和不足，有什么经验、提</tspan><tspan x="1611" dy="14.2">高。那么，工作总结怎么写?个人工作总结的</tspan><tspan x="1611" dy="14.2">格式是怎样的?详情请看下文解析。</tspan></text></g>
<g id="p3d2"><line class="ul" x1="1605" y1="3554" x2="1682" y2="3554"/><text class="t" x="1611" y="3545">(一)基本情况</text></g>
<g id="p3d2a"><line class="ul" x1="1700" y1="3454" x2="1934" y2="3454"/><text class="t" x="1706" y="3402.4"><tspan x="1706">1. 总结必须有情况的概述和叙述，有的比较</tspan><tspan x="1706" dy="14.2">简单，有的比较详细。这部分内容主要是对工</tspan><tspan x="1706" dy="14.2">作的主客观条件、有利和不利条件以及工作的</tspan><tspan x="1706" dy="14.2">环境和基础等进行分析。</tspan></text></g>
<g id="p3d2b"><line class="ul" x1="1700" y1="3561" x2="1934" y2="3561"/><text class="t" x="1706" y="3495.2"><tspan x="1706">2. 成绩和缺点。这是总结的中心。总结的目</tspan><tspan x="1706" dy="14.2">的就是要肯定成绩，找出缺点。成绩有哪些，</tspan><tspan x="1706" dy="14.2">有多大，表现在哪些方面，是怎样取得的;缺</tspan><tspan x="1706" dy="14.2">点有多少，表现在哪些方面，是什么性质的，</tspan><tspan x="1706" dy="14.2">怎样产生的，都应讲清楚。</tspan></text></g>
<g id="p3d2c"><line class="ul" x1="1700" y1="3653" x2="1934" y2="3653"/><text class="t" x="1706" y="3601.4"><tspan x="1706">3. 经验和教训。做过一件事，总会有经验和</tspan><tspan x="1706" dy="14.2">教训。为便于今后的工作，须对以往工作的经</tspan><tspan x="1706" dy="14.2">验和教训进行分析、研究、概括、集中，并上</tspan><tspan x="1706" dy="14.2">升到理论的高度来认识。</tspan></text></g>
<g id="p3d2d"><line class="ul" x1="1953" y1="3653" x2="2187" y2="3653"/><text class="t" x="1959" y="3601.4"><tspan x="1959">今后的打算。根据今后的工作任务和要求，吸</tspan><tspan x="1959" dy="14.2">取前一时期工作的经验和教训，明确努力方向</tspan><tspan x="1959" dy="14.2">，提出改进措施等。具体可以参考部分工作总</tspan><tspan x="1959" dy="14.2">结范文。</tspan></text></g>
<g id="p3d3"><line class="ul" x1="1605" y1="3822" x2="1758" y2="3822"/><text class="t" x="1611" y="3813">(二)写好总结需要注意的问题</text></g>
<g id="p3d3a"><line class="ul" x1="1778" y1="3731.5" x2="2012" y2="3731.5"/><text class="t" x="1784" y="3694.1"><tspan x="1784">1. 一定要实事求是，成绩不夸大，缺点不缩</tspan><tspan x="1784" dy="14.2">小，更不能弄虚作假。这是分析、得出教训的</tspan><tspan x="1784" dy="14.2">基础。</tspan></text></g>
<g id="p3d3b"><line class="ul" x1="1778" y1="3809" x2="2012" y2="3809"/><text class="t" x="1784" y="3771.6"><tspan x="1784">2. 条理要清楚。总结是写给人看的，条理不</tspan><tspan x="1784" dy="14.2">清，人们就看不下去，即使看了也不知其所以</tspan><tspan x="1784" dy="14.2">然，这样就达不到总结的目的。</tspan></text></g>
<g id="p3d3c"><line class="ul" x1="1778" y1="3915" x2="2012" y2="3915"/><text class="t" x="1784" y="3849.2"><tspan x="1784">3. 要剪裁得体，详略适宜。材料有本质的，</tspan><tspan x="1784" dy="14.2">有现象的;有重要的，有次要的，写作时要去</tspan><tspan x="1784" dy="14.2">芜存精。总结中的问题要有主次、详略之分，</tspan><tspan x="1784" dy="14.2">该详的要详，该略的要略。另外，在结尾处也</tspan><tspan x="1784" dy="14.2">可以附上下一步个人工作计划。</tspan></text></g>

<g id="p5"><line class="ul" x1="1326" y1="4138" x2="1498" y2="4138"/><text class="l1" x="1334" y="4128">一九九年工作总结 第5篇</text></g>
<g id="p5a"><line class="ul" x1="1516" y1="4007" x2="1752" y2="4007"/><text class="t" x="1523" y="3955.4"><tspan x="1523">在市教育局的正确领导下，我校后勤处全面贯</tspan><tspan x="1523" dy="14.2">彻、认真落实市教育局的各项工作部署，扎实</tspan><tspan x="1523" dy="14.2">有效地开展工作，现把我校20xx年的后勤工</tspan><tspan x="1523" dy="14.2">作总结如下：</tspan></text></g>
<g id="p5a1"><line class="ul" x1="1770" y1="4007" x2="1895" y2="4007"/><text class="t" x="1777" y="3998">一、校舍建设成绩优秀</text></g>
<g id="p5b"><line class="ul" x1="1516" y1="4269" x2="1752" y2="4269"/><text class="t" x="1523" y="4231.6"><tspan x="1523">为改善学校办学条件，学校领导一直在多方奔</tspan><tspan x="1523" dy="14.2">走、积极争取资金，在市教育局的高度重视和</tspan><tspan x="1523" dy="14.2">指导下，我校校舍建设取得突破性进展：</tspan></text></g>
<g id="p5b1"><line class="ul" x1="1770" y1="4085" x2="1979" y2="4085"/><text class="t" x="1777" y="4076">1、新建的老师周转房及配套设施已完工</text></g>
<g id="p5b1a"><line class="ul" x1="1997" y1="4085" x2="2232" y2="4085"/><text class="t" x="2003" y="4047.6"><tspan x="2003">老师周转房于20xx年5月动工，到12月已经全</tspan><tspan x="2003" dy="14.2">部完工，各种配套设施也相应完善，准备20</tspan><tspan x="2003" dy="14.2">xx年老师入住。</tspan></text></g>
<g id="p5b2"><line class="ul" x1="1770" y1="4220" x2="2002" y2="4220"/><text class="t" x="1777" y="4211">2、对操场及花坛破损之处进行大面积的修补</text></g>
<g id="p5b2a"><line class="ul" x1="2020" y1="4220" x2="2254" y2="4220"/><text class="t" x="2026" y="4125.8"><tspan x="2026">今年我校迎接省的均衡教育的检查，作为契机</tspan><tspan x="2026" dy="14.2">，对学校运动场地、学生活动场地进行了精心</tspan><tspan x="2026" dy="14.2">修整、硬化，用去资金十多万元建了球场，</tspan><tspan x="2026" dy="14.2">添置了墙壁画，用去资金三万多元花了八、</tspan><tspan x="2026" dy="14.2">九千元添置了校园设备;对办公室进行了更新</tspan><tspan x="2026" dy="14.2">，美化了校园，营造了氛围;给师生提供一个</tspan><tspan x="2026" dy="14.2">舒适、愉悦的学习和生活环境。</tspan></text></g>
<g id="p5b3"><line class="ul" x1="1770" y1="4311" x2="2004" y2="4311"/><text class="t" x="1777" y="4287.8"><tspan x="1777">3、装备了仪器室、图书阅览室、体育器材室</tspan><tspan x="1777" dy="14.2">、卫生室等处室</tspan></text></g>
<g id="p5b3a"><line class="ul" x1="2025" y1="4311" x2="2259" y2="4311"/><text class="t" x="2031" y="4259.4"><tspan x="2031">学校争取市教育局的支持，装备了一间高配置</tspan><tspan x="2031" dy="14.2">的仪器室，图书阅览室、体育器材室、卫生室</tspan><tspan x="2031" dy="14.2">现已投入使用，新设备深受师生的喜爱，孩子</tspan><tspan x="2031" dy="14.2">们的学习劲头更足了。</tspan></text></g>
<g id="p5b4"><line class="ul" x1="1770" y1="4403" x2="1963" y2="4403"/><text class="t" x="1777" y="4394">4、学生食堂服务于广大学生及老师</text></g>
<g id="p5b4a"><line class="ul" x1="1975" y1="4403" x2="2210" y2="4403"/><text class="t" x="1981" y="4351.4"><tspan x="1981">开学学校积极组织人力物力为食堂购进一批先</tspan><tspan x="1981" dy="14.2">进的食堂设备，学习外校食堂的先进管理方法</tspan><tspan x="1981" dy="14.2">，合理安排工作人员，使食堂很快服务于学校</tspan><tspan x="1981" dy="14.2">的教学。</tspan></text></g>
<g id="p5b5"><line class="ul" x1="1770" y1="4452.5" x2="1956" y2="4452.5"/><text class="t" x="1777" y="4443.5">5、部分老师家属楼的用水进行整改</text></g>
</g>
</svg>
